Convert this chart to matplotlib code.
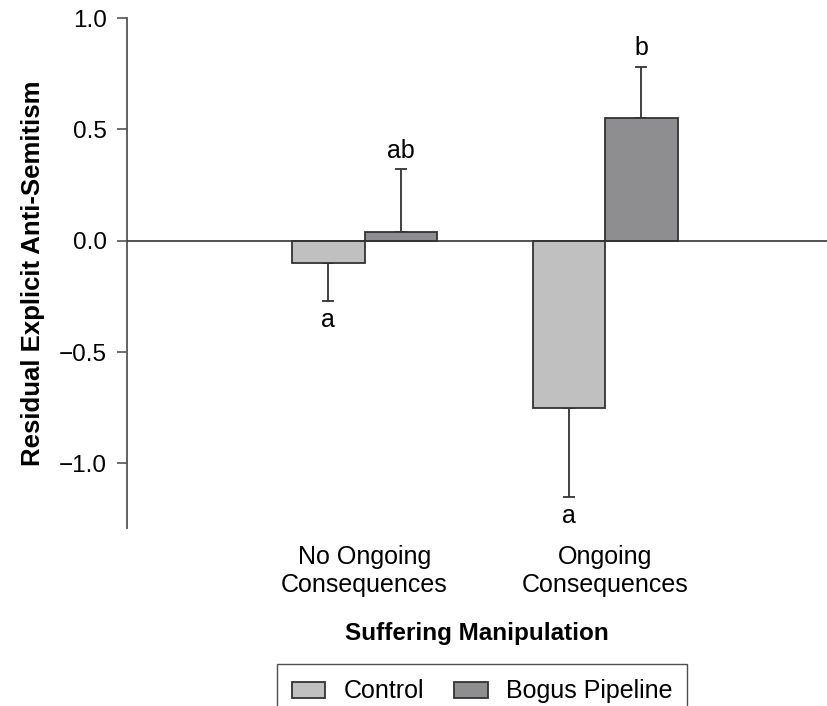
import numpy as np
import matplotlib.pyplot as plt

plt.rcParams['font.family'] = ['Liberation Sans', 'DejaVu Sans']

groups = ['No Ongoing\nConsequences', 'Ongoing\nConsequences']
series = ['Control', 'Bogus Pipeline']
control = [-0.10, -0.75]
bogus = [0.04, 0.55]
control_err = [0.17, 0.40]
bogus_err = [0.28, 0.23]
control_sig = ['a', 'a']
bogus_sig = ['ab', 'b']

fig = plt.figure(figsize=(8.28, 7.06), dpi=100)
ax = fig.add_axes([0.153, 0.252, 0.847, 0.7225])

x = np.arange(len(groups))
w = 0.3
edge = '#333333'

for vals, errs, sig, off, col, name in [
        (control, control_err, control_sig, -w / 2, '#c0c0c0', series[0]),
        (bogus, bogus_err, bogus_sig, w / 2, '#8e8e90', series[1])]:
    ax.bar(x + off, vals, w, color=col, edgecolor=edge, linewidth=1.3, label=name, zorder=2)
    for xi, v, e, s in zip(x + off, vals, errs, sig):
        # one-sided error bars pointing away from zero
        yerr = [[0], [e]] if v >= 0 else [[e], [0]]
        ax.errorbar(xi, v, yerr=yerr, fmt='none', ecolor=edge, elinewidth=1.3,
                    capsize=4, capthick=1.3, zorder=1)
        if v >= 0:
            ax.text(xi, v + e + 0.03, s, ha='center', va='bottom', fontsize=18)
        else:
            ax.text(xi, v - e - 0.03, s, ha='center', va='top', fontsize=18)

ax.axhline(0, color='#333333', linewidth=1.2, zorder=3)

ax.set_xlim(-0.988, 1.925)
ax.set_ylim(-1.29, 1.0)
ax.set_yticks([1.0, 0.5, 0.0, -0.5, -1.0])
ax.set_yticklabels(['1.0', '0.5', '0.0', '\u22120.5', '\u22121.0'])
ax.set_xticks(x)
ax.set_xticklabels(groups, fontsize=18)
ax.tick_params(axis='x', length=0, pad=12)
ax.tick_params(axis='y', labelsize=17.5, length=7, width=1.2, color='#555555', pad=7)

for side in ['top', 'right', 'bottom']:
    ax.spines[side].set_visible(False)
ax.spines['left'].set_color('#555555')
ax.spines['left'].set_linewidth(1.3)

ax.set_ylabel('Residual Explicit Anti-Semitism', fontsize=18.5, fontweight='bold', labelpad=10)
ax.set_xlabel('Suffering Manipulation', fontsize=17.5, fontweight='bold', labelpad=18)

fig.legend(loc='upper center', bbox_to_anchor=(0.582, 0.0765), ncol=2, fontsize=18,
           frameon=True, fancybox=False, edgecolor='#222222', handlelength=1.35,
           handleheight=0.6, columnspacing=1.2, borderpad=0.6, handletextpad=0.72)

fig.savefig('out.png', dpi=100)
